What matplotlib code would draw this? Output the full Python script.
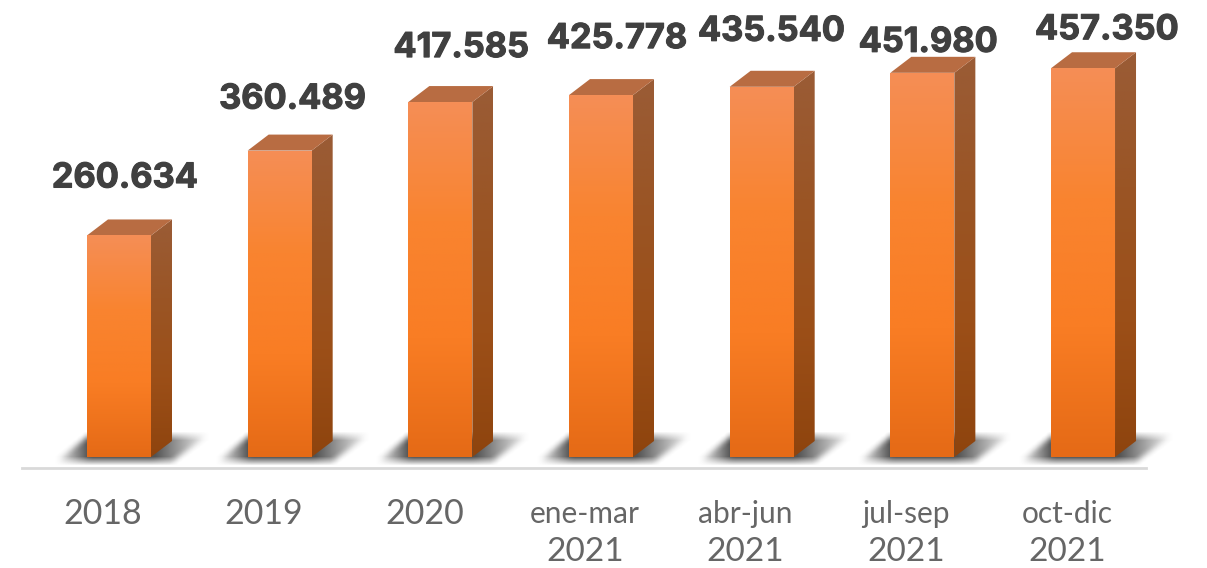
import numpy as np
import matplotlib
matplotlib.use('Agg')
import matplotlib.pyplot as plt
import matplotlib.patheffects as pe
from matplotlib.patches import Polygon
from matplotlib.colors import LinearSegmentedColormap

categories = ['2018', '2019', '2020', 'ene-mar\n2021', 'abr-jun\n2021', 'jul-sep\n2021', 'oct-dic\n2021']
values = [260634, 360489, 417585, 425778, 435540, 451980, 457350]
value_labels = ['260.634', '360.489', '417.585', '425.778', '435.540', '451.980', '457.350']

# label nudges in pixels, the original has them placed by hand
label_dx = [6, 13, 21, 16, 10, 6, 24]
label_dy = [57, 51, 54, 56, 55, 30, 38]

W, H = 1207, 568
px_per_unit = 0.00085
px_per_cat = 160.67
x0_px, y0_px = 119, 457

bar_w = 64 / px_per_cat
dx = 21 / px_per_cat
dy = 16 / px_per_unit
ux = 1 / px_per_cat
uy = 1 / px_per_unit

front_cmap = LinearSegmentedColormap.from_list('front', ['#F58E56', '#F98430', '#F97D24', '#E56A16'])
side_cmap = LinearSegmentedColormap.from_list('side', ['#9A5C36', '#9A5525', '#9C4F18', '#8E440E'])


def shadow_alpha(nx=190, ny=40, blur=9):
    # parallelogram with a dark core next to the bar, fading to both tips
    xx, yy = np.meshgrid(np.arange(nx), np.arange(ny))
    t = (yy - 5) / 24.0
    left = 20 + (1 - t) * 30
    right = 135 + (1 - t) * 33
    inside = ((t >= 0) & (t <= 1) & (xx >= left) & (xx <= right)).astype(float)
    fade = np.clip(1 - np.maximum(52 - xx, 0) / 34.0, 0, 1) * np.clip(1 - np.maximum(xx - 114, 0) / 58.0, 0.0, 1)
    a = inside * fade
    kernel = np.ones(blur) / blur
    for axis in (0, 1):
        a = np.apply_along_axis(lambda r: np.convolve(r, kernel, mode='same'), axis, a)
    return np.clip(a * 0.95, 0, 0.9)


fig = plt.figure(figsize=(W / 100, H / 100), dpi=100)
ax = fig.add_axes([0, 0, 1, 1])
ax.set_xlim(-x0_px / px_per_cat, (W - x0_px) / px_per_cat)
ax.set_ylim(-(H - y0_px) / px_per_unit, y0_px / px_per_unit)
ax.axis('off')

alpha = shadow_alpha()
shadow = np.zeros(alpha.shape + (4,))
shadow[..., :3] = 0.25
shadow[..., 3] = alpha
grad = np.linspace(0, 1, 256).reshape(-1, 1)
stroke = [pe.withStroke(linewidth=0.8, foreground='#404040')]

# baseline
ax.plot([(22 - x0_px) * ux, (1146 - x0_px) * ux], [-11 * uy, -11 * uy], color='#D9D9D9', lw=2, zorder=1)

for i, (cat, val, lab) in enumerate(zip(categories, values, value_labels)):
    xl = i - bar_w / 2
    xr = i + bar_w / 2

    ax.imshow(shadow, extent=[xl - 50 * ux, xl + 140 * ux, -14 * uy, 26 * uy], aspect='auto',
              origin='upper', zorder=2, interpolation='bilinear')

    side = Polygon([(xr, 0), (xr + dx, dy), (xr + dx, val + dy), (xr, val)], closed=True,
                   facecolor='none', edgecolor='none', zorder=3)
    ax.add_patch(side)
    im = ax.imshow(grad, extent=[xr, xr + dx, 0, val + dy], aspect='auto', cmap=side_cmap, zorder=3)
    im.set_clip_path(side)

    ax.add_patch(Polygon([(xl, val), (xl + dx, val + dy), (xr + dx, val + dy), (xr, val)], closed=True,
                         facecolor='#B86C42', edgecolor='none', zorder=3))

    front = Polygon([(xl, 0), (xr, 0), (xr, val), (xl, val)], closed=True,
                    facecolor='none', edgecolor='none', zorder=4)
    ax.add_patch(front)
    im = ax.imshow(grad, extent=[xl, xr, 0, val], aspect='auto', cmap=front_cmap, zorder=4)
    im.set_clip_path(front)

    ax.annotate(lab, (i, val), xytext=(label_dx[i], label_dy[i]), textcoords='offset pixels',
                ha='center', va='center', fontsize=24.7, fontweight='bold', color='#404040',
                family='Inter', zorder=5, path_effects=stroke)

    # tick labels, two line ones are a bit smaller
    if '\n' in cat:
        top, bottom = cat.split('\n')
        ax.annotate(top, (i, 0), xytext=(-16, -57), textcoords='offset pixels', ha='center', va='center',
                    fontsize=21.5, color='#666666', family='Lato', zorder=5)
        ax.annotate(bottom, (i, 0), xytext=(-16, -95), textcoords='offset pixels', ha='center', va='center',
                    fontsize=24, color='#666666', family='Lato', zorder=5)
    else:
        ax.annotate(cat, (i, 0), xytext=(-16, -57), textcoords='offset pixels', ha='center', va='center',
                    fontsize=24.5, color='#666666', family='Lato', zorder=5)

# imshow resets limits
ax.set_xlim(-x0_px / px_per_cat, (W - x0_px) / px_per_cat)
ax.set_ylim(-(H - y0_px) / px_per_unit, y0_px / px_per_unit)
ax.set_aspect('auto')

fig.savefig('out.png', dpi=100, facecolor='white')
